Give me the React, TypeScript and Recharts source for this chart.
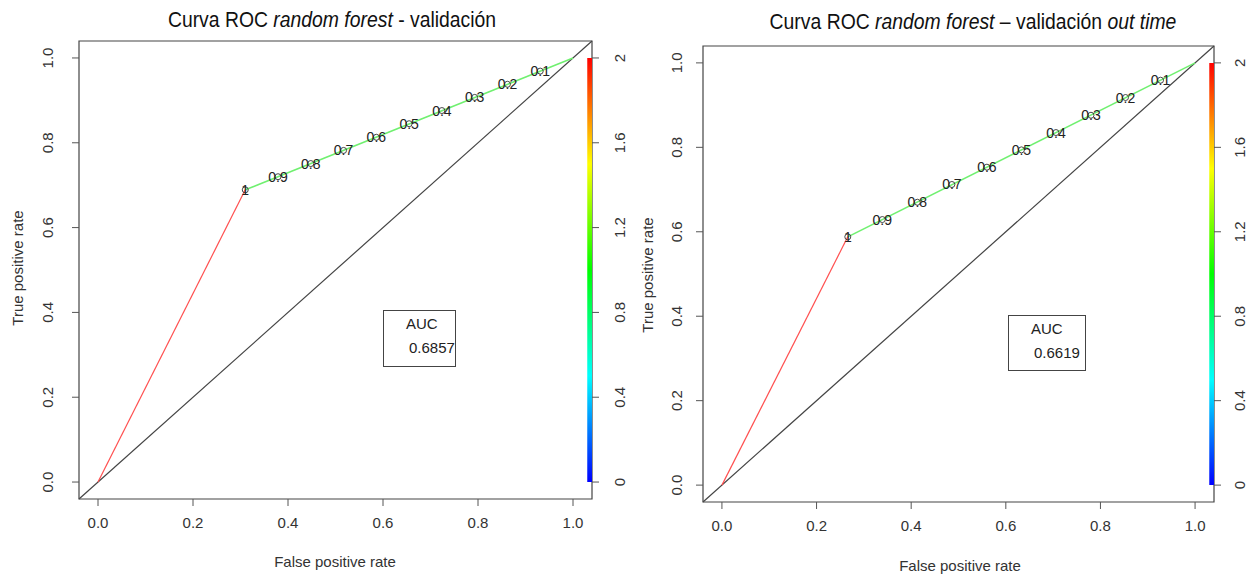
import React from "react";
import {
  ComposedChart,
  Line,
  Scatter,
  XAxis,
  YAxis,
  ReferenceArea,
  ReferenceLine,
} from "recharts";

const xTicks = [0, 0.2, 0.4, 0.6, 0.8, 1];
const yTicks = [0, 0.2, 0.4, 0.6, 0.8, 1];
const colorTicks = [0, 0.4, 0.8, 1.2, 1.6, 2];

// validación
const valHead = [
  { x: 0, y: 0 },
  { x: 0.31, y: 0.689 },
];
const valTail = [
  { x: 0.31, y: 0.689 },
  { x: 1, y: 1 },
];
const valCutoffs = [
  { x: 0.31, y: 0.689, label: "1" },
  { x: 0.379, y: 0.72, label: "0.9" },
  { x: 0.448, y: 0.751, label: "0.8" },
  { x: 0.517, y: 0.782, label: "0.7" },
  { x: 0.586, y: 0.813, label: "0.6" },
  { x: 0.655, y: 0.845, label: "0.5" },
  { x: 0.724, y: 0.876, label: "0.4" },
  { x: 0.793, y: 0.907, label: "0.3" },
  { x: 0.862, y: 0.938, label: "0.2" },
  { x: 0.931, y: 0.969, label: "0.1" },
];
const valAuc = "0.6857";

// validación out time
const oosHead = [
  { x: 0, y: 0 },
  { x: 0.266, y: 0.588 },
];
const oosTail = [
  { x: 0.266, y: 0.588 },
  { x: 1, y: 1 },
];
const oosCutoffs = [
  { x: 0.266, y: 0.588, label: "1" },
  { x: 0.339, y: 0.629, label: "0.9" },
  { x: 0.413, y: 0.67, label: "0.8" },
  { x: 0.486, y: 0.712, label: "0.7" },
  { x: 0.56, y: 0.753, label: "0.6" },
  { x: 0.633, y: 0.794, label: "0.5" },
  { x: 0.706, y: 0.835, label: "0.4" },
  { x: 0.78, y: 0.876, label: "0.3" },
  { x: 0.853, y: 0.918, label: "0.2" },
  { x: 0.927, y: 0.959, label: "0.1" },
];
const oosAuc = "0.6619";

const SANS = "'Liberation Sans', Arial, sans-serif";
const INK = "#333";
const FRAME = "#444";

const fmt = (v: number) => (v === 0 || v === 2 ? String(v) : v.toFixed(1));

const CutoffMark = (props: any) => {
  const { cx, cy, payload } = props;
  return (
    <g>
      <circle cx={cx} cy={cy} r={3} fill="none" stroke={INK} strokeWidth={0.9} />
      <text
        x={cx}
        y={cy}
        dy={5}
        textAnchor="middle"
        fontSize={14}
        fontFamily={SANS}
        fill="#222"
      >
        {payload.label}
      </text>
    </g>
  );
};

const RotTick = (props: any) => {
  const { x, y, payload, shift, colorbar } = props;
  const bx = x + shift;
  return (
    <text
      x={bx}
      y={y}
      transform={`rotate(-90 ${bx} ${y})`}
      textAnchor="middle"
      fontSize={15}
      fontFamily={SANS}
      fill={INK}
    >
      {colorbar ? fmt(payload.value) : payload.value.toFixed(1)}
    </text>
  );
};

interface PanelProps {
  id: string;
  width: number;
  left: number;
  right: number;
  top: number;
  bottom: number;
  leftShift: number;
  rightShift: number;
  head: { x: number; y: number }[];
  tail: { x: number; y: number }[];
  cutoffs: { x: number; y: number; label: string }[];
}

function RocPanel({
  id,
  width,
  left,
  right,
  top,
  bottom,
  leftShift,
  rightShift,
  head,
  tail,
  cutoffs,
}: PanelProps) {
  const height = 576;
  return (
    <ComposedChart
      width={width}
      height={height}
      margin={{ top, right: 0, bottom: 0, left: 0 }}
    >
      <defs>
        <linearGradient id={id} x1="0" y1="1" x2="0" y2="0">
          <stop offset="0" stopColor="#0000ff" />
          <stop offset="0.25" stopColor="#00ffff" />
          <stop offset="0.5" stopColor="#00ff00" />
          <stop offset="0.75" stopColor="#ffff00" />
          <stop offset="1" stopColor="#ff0000" />
        </linearGradient>
      </defs>
      <XAxis
        type="number"
        dataKey="x"
        domain={[-0.04, 1.04]}
        ticks={xTicks}
        allowDataOverflow
        axisLine={false}
        tickLine={{ stroke: "#555" }}
        tickSize={7}
        tickMargin={11}
        height={height - bottom}
        tickFormatter={(v: number) => v.toFixed(1)}
        tick={{ fontSize: 15, fontFamily: SANS, fill: INK }}
      />
      <YAxis
        type="number"
        dataKey="y"
        domain={[-0.04, 1.04]}
        ticks={yTicks}
        allowDataOverflow
        axisLine={false}
        tickLine={{ stroke: "#555" }}
        tickSize={7}
        tickMargin={2}
        width={left}
        tick={<RotTick shift={leftShift} />}
      />
      <YAxis
        yAxisId="cb"
        orientation="right"
        type="number"
        domain={[-0.08, 2.08]}
        ticks={colorTicks}
        allowDataOverflow
        axisLine={false}
        tickLine={{ stroke: "#555" }}
        tickSize={7}
        tickMargin={2}
        width={width - right}
        tick={<RotTick shift={rightShift} colorbar />}
      />
      <ReferenceArea
        x1={-0.04}
        x2={1.04}
        y1={-0.04}
        y2={1.04}
        fill="none"
        fillOpacity={0}
        stroke={FRAME}
        strokeWidth={1.2}
      />
      <ReferenceArea
        x1={1.03}
        x2={1.04}
        y1={0}
        y2={1}
        fill={`url(#${id})`}
        fillOpacity={1}
        stroke="none"
      />
      <ReferenceLine
        segment={[
          { x: -0.04, y: -0.04 },
          { x: 1.04, y: 1.04 },
        ]}
        stroke={FRAME}
        strokeWidth={1.2}
      />
      <Line
        data={head}
        dataKey="y"
        stroke="#ff5050"
        strokeWidth={1.2}
        dot={false}
        isAnimationActive={false}
      />
      <Line
        data={tail}
        dataKey="y"
        stroke="#70f070"
        strokeWidth={1.6}
        dot={false}
        isAnimationActive={false}
      />
      <Scatter
        data={cutoffs}
        dataKey="y"
        shape={<CutoffMark />}
        isAnimationActive={false}
      />
    </ComposedChart>
  );
}

const abs = (l: number, t: number): React.CSSProperties => ({
  position: "absolute",
  left: l,
  top: t,
});

function Title({ cx, y, children }: { cx: number; y: number; children: React.ReactNode }) {
  return (
    <div
      style={{
        ...abs(cx - 300, y),
        width: 600,
        textAlign: "center",
        fontFamily: SANS,
        fontSize: 22,
        color: "#111",
        whiteSpace: "nowrap",
        transform: "scaleX(0.88)",
        transformOrigin: "center",
      }}
    >
      {children}
    </div>
  );
}

function AxisTitle({ cx, cy, text, rotate }: { cx: number; cy: number; text: string; rotate?: boolean }) {
  return (
    <div
      style={{
        ...abs(cx - 100, cy - 9),
        width: 200,
        height: 18,
        lineHeight: "18px",
        textAlign: "center",
        fontFamily: SANS,
        fontSize: 15,
        color: INK,
        transform: rotate ? "rotate(-90deg)" : undefined,
      }}
    >
      {text}
    </div>
  );
}

function AucBox({ l, t, w, h, value }: { l: number; t: number; w: number; h: number; value: string }) {
  return (
    <div
      style={{
        ...abs(l, t),
        width: w,
        height: h,
        boxSizing: "border-box",
        border: `1px solid ${FRAME}`,
        fontFamily: SANS,
        fontSize: 15,
        color: "#222",
        background: "#fff",
      }}
    >
      <div style={abs(22, 4)}>AUC</div>
      <div style={abs(25, 28)}>{value}</div>
    </div>
  );
}

export default function App() {
  return (
    <div
      style={{
        position: "absolute",
        left: 0,
        top: 0,
        width: 1259,
        height: 576,
        background: "#fff",
        overflow: "hidden",
      }}
    >
      <div style={abs(0, 0)}>
        <RocPanel
          id="cbVal"
          width={630}
          left={79}
          right={592}
          top={41}
          bottom={499}
          leftShift={-17}
          rightShift={24}
          head={valHead}
          tail={valTail}
          cutoffs={valCutoffs}
        />
      </div>
      <div style={abs(630, 0)}>
        <RocPanel
          id="cbOos"
          width={629}
          left={73}
          right={584}
          top={46}
          bottom={502}
          leftShift={-12}
          rightShift={22}
          head={oosHead}
          tail={oosTail}
          cutoffs={oosCutoffs}
        />
      </div>
      <AucBox l={383} t={310} w={73} h={57} value={valAuc} />
      <AucBox l={1008} t={315} w={78} h={56} value={oosAuc} />
      <Title cx={332} y={7}>
        Curva ROC <i>random forest</i> - validación
      </Title>
      <Title cx={973} y={9}>
        Curva ROC <i>random forest</i> – validación <i>out time</i>
      </Title>
      <AxisTitle cx={335} cy={562} text="False positive rate" />
      <AxisTitle cx={960} cy={566} text="False positive rate" />
      <AxisTitle cx={18} cy={268} text="True positive rate" rotate />
      <AxisTitle cx={648} cy={275} text="True positive rate" rotate />
    </div>
  );
}
